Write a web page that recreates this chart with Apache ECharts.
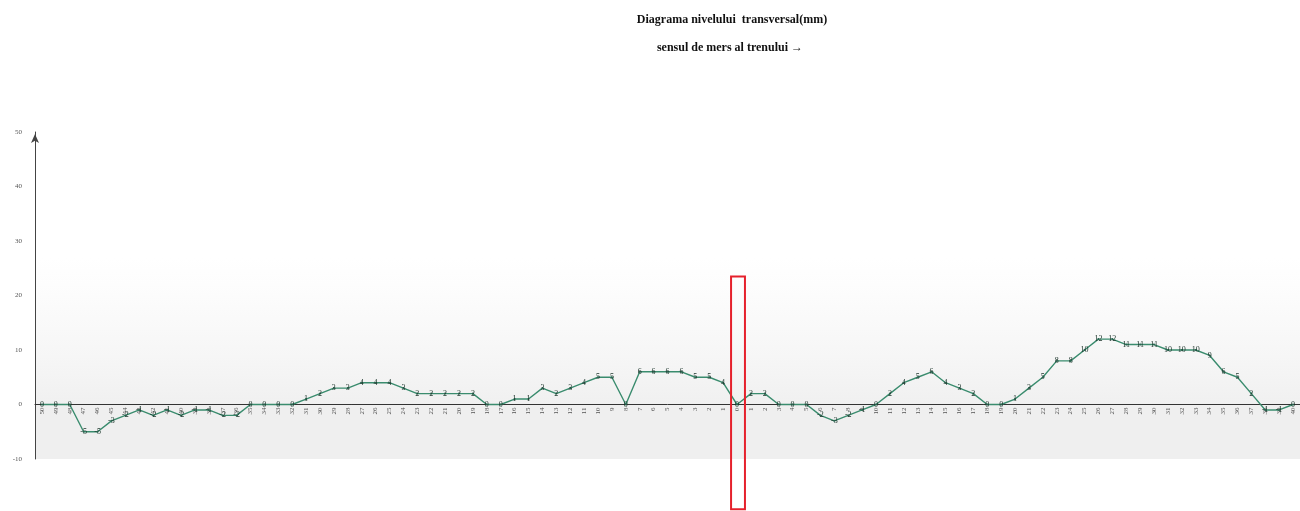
<!DOCTYPE html>
<html>
<head>
<meta charset="utf-8">
<script src="https://cdn.jsdelivr.net/npm/echarts@6/dist/echarts.min.js"></script>
<style>
html,body{margin:0;padding:0;background:#fff;}
#c{width:1300px;height:511px;}
</style>
</head>
<body>
<div id="c"></div>
<script>
// x tick labels (distance marks, counting down to 0 then up)
const categories = ['50','49','48','47','46','45','44','43','42','41','40','39','38','37','36','35','34','33','32','31','30','29','28','27','26','25','24','23','22','21','20','19','18','17','16','15','14','13','12','11','10','9','8','7','6','5','4','3','2','1','0','1','2','3','4','5','6','7','8','9','10','11','12','13','14','15','16','17','18','19','20','21','22','23','24','25','26','27','28','29','30','31','32','33','34','35','36','37','38','39','40'];
// transversal level values (mm)
const levelValues = [0,0,0,-5,-5,-3,-2,-1,-2,-1,-2,-1,-1,-2,-2,0,0,0,0,1,2,3,3,4,4,4,3,2,2,2,2,2,0,0,1,1,3,2,3,4,5,5,0,6,6,6,6,5,5,4,
  0,
  2,2,0,0,0,-2,-3,-2,-1,0,2,4,5,6,4,3,2,0,0,1,3,5,8,8,10,12,12,11,11,11,10,10,10,9,6,5,2,-1,-1,0];
const yTicks = [-10,0,10,20,30,40,50];
const titleText = 'Diagrama nivelului  transversal(mm)';
const subText = 'sensul de mers al trenului \u2192';
const markedIndex = 50;          // the highlighted "0" position
const markedRange = [23.5, -19.2]; // vertical extent of the red frame (value units)

const chart = echarts.init(document.getElementById('c'), null, {renderer:'canvas'});
const serif = '"Liberation Serif","DejaVu Serif",serif';
const option = {
  animation:false,
  backgroundColor:'#ffffff',
  title:[
    {text:titleText, left:727, top:9, textAlign:'center',
     textStyle:{fontFamily:serif, fontWeight:'bold', fontSize:12, color:'#111'}},
    {text:subText, left:725, top:37, textAlign:'center',
     textStyle:{fontFamily:serif, fontWeight:'bold', fontSize:12, color:'#111'}}
  ],
  grid:{left:35, right:0, top:132, bottom:52, containLabel:false},
  xAxis:{
    type:'category', data:categories, boundaryGap:true, z:3,
    axisLine:{onZero:false, lineStyle:{color:'#333', width:1}},
    axisTick:{show:false},
    axisLabel:{interval:0, rotate:90, fontSize:7, color:'#555', margin:3, fontFamily:serif},
    splitLine:{show:false}
  },
  yAxis:{
    type:'value', min:yTicks[0], max:yTicks[yTicks.length-1], interval:10, z:3,
    axisLine:{show:true, lineStyle:{color:'#444', width:1}, symbol:['none','arrow'], symbolSize:[6,9], symbolOffset:[0,-2]},
    axisTick:{show:false},
    axisLabel:{fontSize:7, color:'#555', margin:13, fontFamily:serif},
    splitLine:{show:false}
  },
  series:[{
    type:'line', data:[], z:0, silent:true,
    markArea:{
      silent:true,
      data:[
        [{yAxis:-10, itemStyle:{color:'#efefef'}},{yAxis:0}],
        [{yAxis:0, itemStyle:{color:{type:'linear',x:0,y:0,x2:0,y2:1,colorStops:[{offset:0,color:'rgba(245,245,245,0)'},{offset:1,color:'rgba(240,240,240,1)'}]}}},{yAxis:27}]
      ]
    }
  },{
    type:'line', data:levelValues, z:5,
    symbol:'circle', symbolSize:2, showSymbol:true, showAllSymbol:true,
    lineStyle:{color:'#3a8c6e', width:1.4},
    itemStyle:{color:'#2a6450'},
    label:{show:true, position:'inside', fontSize:8, color:'#1a3329', fontFamily:serif}
  }]
};
chart.setOption(option);

function placeAxisAndFrame(){
  // move the category axis (line + labels) to the value 0 level
  const y0 = chart.convertToPixel({yAxisIndex:0}, 0);
  const yMin = chart.convertToPixel({yAxisIndex:0}, yTicks[0]);
  chart.setOption({xAxis:{offset: y0 - yMin}});
  const c0 = chart.convertToPixel({xAxisIndex:0}, markedIndex);
  const c1 = chart.convertToPixel({xAxisIndex:0}, markedIndex+1);
  const w = c1 - c0;
  const yTop = chart.convertToPixel({yAxisIndex:0}, markedRange[0]);
  const yBot = chart.convertToPixel({yAxisIndex:0}, markedRange[1]);
  chart.setOption({graphic:[{
    type:'rect', z:100,
    shape:{x:c0 - w/2 + 1, y:yTop, width:w, height:yBot - yTop},
    style:{fill:'none', stroke:'#e5212c', lineWidth:2}
  }]});
}
placeAxisAndFrame();
</script>
</body>
</html>
